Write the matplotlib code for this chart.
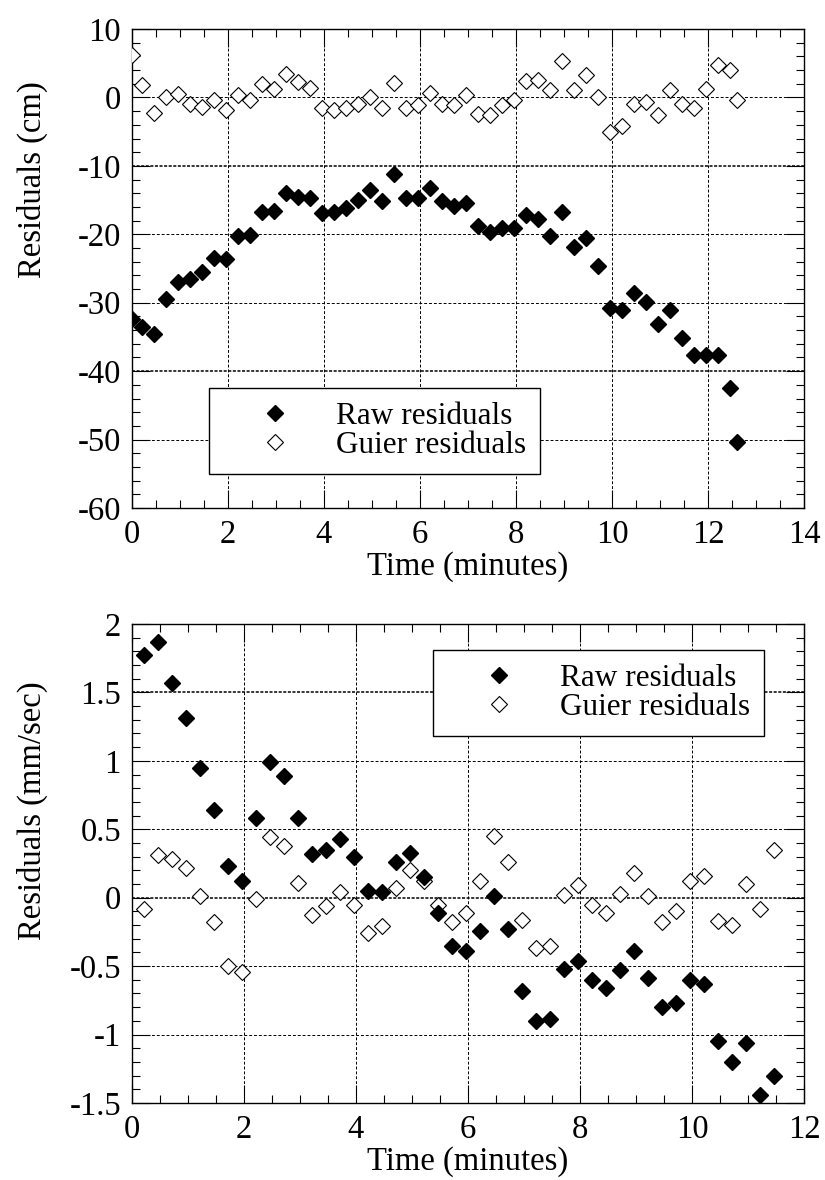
import matplotlib
matplotlib.use("Agg")
import matplotlib.pyplot as plt
from matplotlib.ticker import MultipleLocator, FuncFormatter

plt.rcParams["font.family"] = ["Liberation Serif", "DejaVu Serif"]
plt.rcParams["font.size"] = 23.5
plt.rcParams["axes.unicode_minus"] = False

# top panel: position residuals (cm)
t_pos = [0, 0.2, 0.45, 0.7, 0.95, 1.2, 1.45, 1.7, 1.95, 2.2, 2.45, 2.7, 2.95,
         3.2, 3.45, 3.7, 3.95, 4.2, 4.45, 4.7, 4.95, 5.2, 5.45, 5.7, 5.95, 6.2,
         6.45, 6.7, 6.95, 7.2, 7.45, 7.7, 7.95, 8.2, 8.45, 8.7, 8.95, 9.2, 9.45,
         9.7, 9.95, 10.2, 10.45, 10.7, 10.95, 11.2, 11.45, 11.7, 11.95, 12.2,
         12.45, 12.6]
raw_pos = [-32.4, -33.5, -34.5, -29.5, -27.0, -26.6, -25.5, -23.4, -23.6, -20.3,
           -20.1, -16.8, -16.6, -13.9, -14.5, -14.7, -16.9, -16.8, -16.1, -15.0,
           -13.5, -15.1, -11.2, -14.7, -14.7, -13.3, -15.1, -15.9, -15.4, -18.8,
           -19.6, -19.1, -19.1, -17.2, -17.8, -20.2, -16.7, -21.9, -20.6, -24.7,
           -30.8, -31.0, -28.6, -29.9, -33.1, -31.1, -35.1, -37.7, -37.7, -37.7,
           -42.4, -50.3]
guier_pos = [6.2, 1.8, -2.3, 0.1, 0.5, -0.9, -1.4, -0.4, -1.8, 0.35, -0.3, 2.0,
             1.3, 3.5, 2.2, 1.4, -1.5, -1.8, -1.6, -0.9, 0.1, -1.6, 2.1, -1.5,
             -1.1, 0.6, -0.9, -1.1, 0.35, -2.4, -2.6, -1.1, -0.3, 2.4, 2.6, 1.1,
             5.4, 1.1, 3.3, 0.0, -5.0, -4.1, -0.9, -0.6, -2.5, 1.1, -1.0, -1.5,
             1.3, 4.7, 4.0, -0.3]

# bottom panel: velocity residuals (mm/sec)
t_vel = [0.21, 0.46, 0.71, 0.96, 1.21, 1.46, 1.71, 1.96, 2.21, 2.46, 2.71, 2.96,
         3.21, 3.46, 3.71, 3.96, 4.21, 4.46, 4.71, 4.96, 5.21, 5.46, 5.71, 5.96,
         6.21, 6.46, 6.71, 6.96, 7.21, 7.46, 7.71, 7.96, 8.21, 8.46, 8.71, 8.96,
         9.21, 9.46, 9.71, 9.96, 10.21, 10.46, 10.71, 10.96, 11.21, 11.46]
raw_vel = [1.77, 1.87, 1.57, 1.31, 0.95, 0.64, 0.23, 0.12, 0.58, 0.99, 0.89, 0.58,
           0.32, 0.35, 0.43, 0.30, 0.05, 0.04, 0.26, 0.33, 0.15, -0.11, -0.35,
           -0.39, -0.24, 0.01, -0.23, -0.68, -0.90, -0.89, -0.52, -0.46, -0.60,
           -0.66, -0.53, -0.39, -0.59, -0.80, -0.77, -0.60, -0.63, -1.05, -1.20,
           -1.06, -1.44, -1.30]
guier_vel = [-0.085, 0.31, 0.28, 0.22, 0.01, -0.18, -0.50, -0.54, -0.01, 0.44,
             0.38, 0.11, -0.13, -0.06, 0.04, -0.05, -0.26, -0.21, 0.07, 0.20,
             0.12, -0.05, -0.18, -0.11, 0.12, 0.45, 0.26, -0.16, -0.37, -0.35,
             0.02, 0.09, -0.05, -0.11, 0.03, 0.18, 0.01, -0.18, -0.10, 0.12, 0.16,
             -0.17, -0.20, 0.10, -0.085, 0.35]


def setup(ax, xmax, ymin, ymax, ymaj, ymnr, heavy):
    ax.set_xlim(0, xmax)
    ax.set_ylim(ymin, ymax)
    ax.xaxis.set_major_locator(MultipleLocator(2))
    ax.xaxis.set_minor_locator(MultipleLocator(0.5))
    ax.yaxis.set_major_locator(MultipleLocator(ymaj))
    ax.yaxis.set_minor_locator(MultipleLocator(ymnr))
    ax.yaxis.set_major_formatter(FuncFormatter(lambda v, p: "%g" % round(v, 3)))
    ax.tick_params(which="both", direction="in", top=True, right=True, width=0.8)
    ax.tick_params(which="major", length=13, pad=8)
    ax.tick_params(which="minor", length=6)
    ax.grid(True, which="major", color="black", linestyle=(0, (3, 2)), linewidth=0.7)
    # a couple of grid lines look heavier in the original
    for line, val in zip(ax.get_ygridlines(), ax.get_yticks()):
        if round(val, 3) in heavy:
            line.set_linewidth(1.1)
            line.set_linestyle((0, (2, 1)))
    for s in ax.spines.values():
        s.set_linewidth(1.0)
    ax.set_xlabel("Time (minutes)", labelpad=1)


fig = plt.figure(figsize=(8.25, 11.8), dpi=100)
ax1 = fig.add_axes([0.16, 0.5695, 0.8145, 0.4059])
ax2 = fig.add_axes([0.16, 0.0653, 0.8145, 0.4059])

for ax, t, raw, guier, anchor in [(ax1, t_pos, raw_pos, guier_pos, (0.1146, 0.2505)),
                                  (ax2, t_vel, raw_vel, guier_vel, (0.448, 0.9457))]:
    hg, = ax.plot(t, guier, "D", ms=7.8, mfc="white", mec="black", mew=0.8,
                  ls="none", label="Guier residuals", zorder=3)
    hr, = ax.plot(t, raw, "D", ms=7.8, color="black", ls="none",
                  label="Raw residuals", zorder=4)
    leg = ax.legend(handles=[hr, hg], loc="upper left", bbox_to_anchor=anchor,
                    borderaxespad=0, fancybox=False, edgecolor="black",
                    framealpha=1, handlelength=3.3, handletextpad=0.32,
                    borderpad=0.45, labelspacing=0.0, numpoints=1, fontsize=22.5)
    leg.get_frame().set_linewidth(1.0)

setup(ax1, 14, -60, 10, 10, 2, [-10, -40])
setup(ax2, 12, -1.5, 2, 0.5, 0.1, [1.5, 0])

ax1.set_ylabel("Residuals (cm)")
ax1.yaxis.set_label_coords(-0.125, 0.685)
ax2.set_ylabel("Residuals (mm/sec)")
ax2.yaxis.set_label_coords(-0.125, 0.61)

fig.savefig("out.png", dpi=100)
